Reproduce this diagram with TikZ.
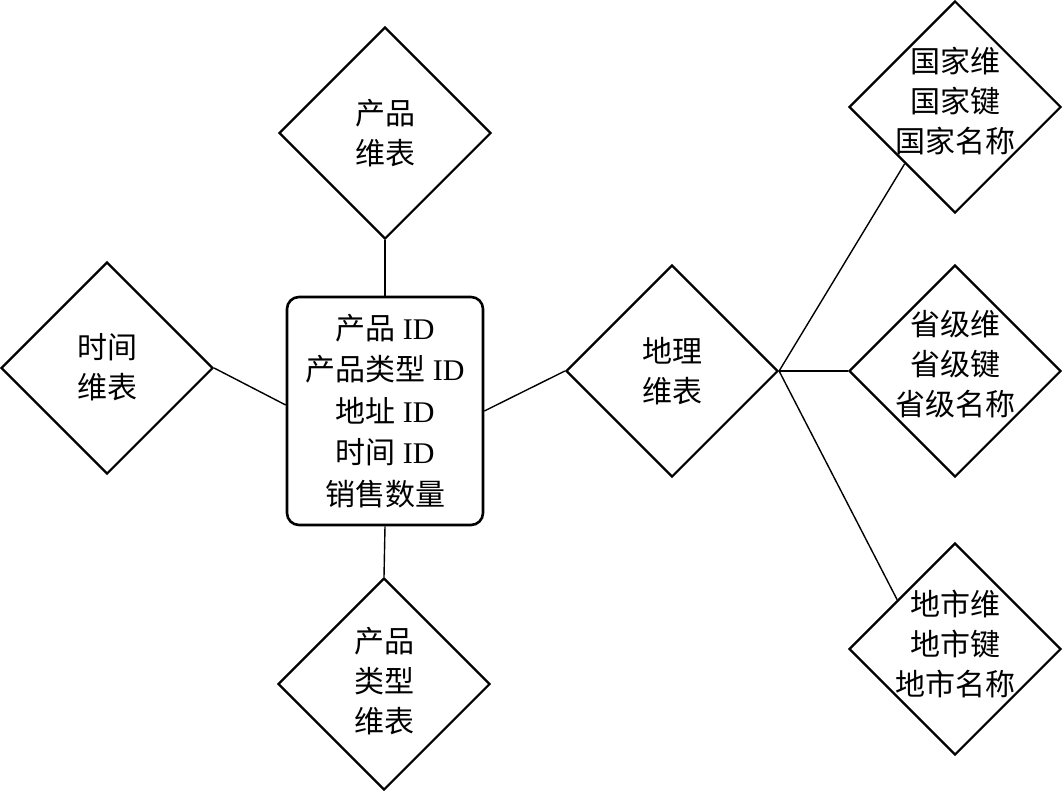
\documentclass[tikz,border=0pt]{standalone}
\usepackage{fontspec}
\setmainfont{Liberation Serif}
\newfontfamily\cjk{Noto Sans CJK SC}
\newcommand\zh[1]{{\cjk #1}}
\usetikzlibrary{shapes.geometric,calc}
\begin{document}
\begin{tikzpicture}[x=1pt,y=-1pt,
  dia/.style={draw,line width=2.2pt,shape=diamond,minimum width=212pt,minimum height=212pt,inner sep=0pt,line join=miter},
  lab/.style={align=center,font=\fontsize{30}{40}\selectfont\cjk},
  conn/.style={line width=1.4pt},
  fact/.style={draw,line width=2.6pt,rounded corners=12pt,minimum width=196pt,minimum height=228pt,align=center,inner sep=0pt,font=\fontsize{30}{41.5}\selectfont}]
\useasboundingbox (0,0) rectangle (1062,793);

\node[fact] (box) at (385,411) {\zh{产品} ID\\\zh{产品类型} ID\\\zh{地址} ID\\\zh{时间} ID\\\zh{销售数量}};

\node[dia,label={[lab]center:{产品\\维表}}] (product) at (385,133) {};
\node[dia,label={[lab,yshift=1pt]center:{时间\\维表}}] (time) at (107,368) {};
\node[dia,label={[lab,yshift=3pt]center:{产品\\类型\\维表}}] (ptype) at (384,684) {};
\node[dia,label={[lab,yshift=0pt]center:{地理\\维表}}] (geo) at (672,371) {};
\node[dia,label={[lab,yshift=6pt]center:{国家维\\国家键\\国家名称}}] (country) at (955,107) {};
\node[dia,label={[lab,yshift=7pt]center:{省级维\\省级键\\省级名称}}] (province) at (955,371) {};
\node[dia,label={[lab,yshift=5pt]center:{地市维\\地市键\\地市名称}}] (city) at (955,649) {};

\coordinate (cty) at ($(country.west)!0.53!(country.south)$);
\coordinate (cit) at ($(city.west)!0.46!(city.north)$);

\draw[conn] (product.south) -- (box.north);
\draw[conn] (box.south) -- (ptype.north);
\draw[conn] (time.east) -- ([yshift=6pt]box.west);
\draw[conn] (box.east) -- (geo.west);
\draw[conn] (geo.east) -- (cty);
\draw[conn] (geo.east) -- (province.west);
\draw[conn] (geo.east) -- (cit);
\end{tikzpicture}
\end{document}
